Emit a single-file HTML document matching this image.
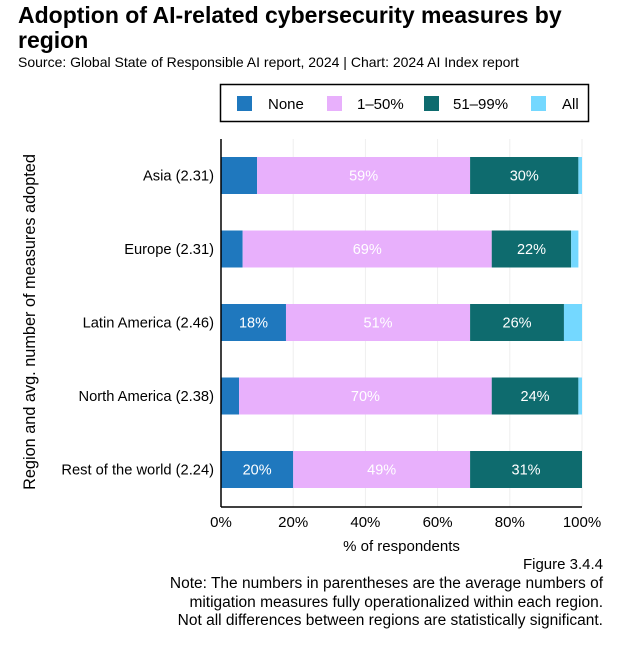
<!DOCTYPE html>
<html><head><meta charset="utf-8">
<style>
body{margin:0;background:#fff;font-family:"Liberation Sans",sans-serif;color:#000}
.t{position:absolute;white-space:nowrap}
</style></head>
<body>
<div style="position:relative;width:617px;height:645px;overflow:hidden">
<div class="t" style="left:18px;top:3px;font-size:23px;font-weight:bold;line-height:25px">Adoption of AI-related cybersecurity measures by<br>region</div>
<div class="t" style="left:18px;top:54px;font-size:14px">Source: Global State of Responsible AI report, 2024 | Chart: 2024 AI Index report</div>
<svg id="c" width="617" height="645" style="position:absolute;left:0;top:0"></svg>
<div class="t" style="right:14px;top:556px;font-size:15px">Figure 3.4.4</div>
<div class="t" style="right:14px;top:575px;font-size:15.5px;text-align:right;line-height:18.5px">Note: The numbers in parentheses are the average numbers of<br>mitigation measures fully operationalized within each region.<br>Not all differences between regions are statistically significant.</div>
</div>
<script>
const regions=["Asia (2.31)","Europe (2.31)","Latin America (2.46)","North America (2.38)","Rest of the world (2.24)"];
const seriesNames=["None","1–50%","51–99%","All"];
const none=[10,6,18,5,20];
const low=[59,69,51,70,49];
const high=[30,22,26,24,31];
const all=[1,2,5,1,0];
const showNone=[false,false,true,false,true];
const ticks=[0,20,40,60,80,100];
const colors=["#1f78be","#e8b0fc","#0e6b6e","#74d8ff"];
const textCol=["#fff","#fff","#fff","#fff"];
const svg=document.getElementById('c');const NS="http://www.w3.org/2000/svg";
const X0=221,X1=582,Y0=139,Y1=507;
const x=v=>X0+(X1-X0)*v/100;
const yc=i=>175.5+73.5*i;
function mk(t,a,p){const e=document.createElementNS(NS,t);for(const k in a)e.setAttribute(k,a[k]);(p||svg).appendChild(e);return e;}
ticks.forEach(t=>{
 if(t>0){const g=mk('line',{x1:x(t),x2:x(t),y1:Y0,y2:Y1,stroke:'#eee','stroke-width':1});
 
 }
 const l=mk('text',{x:x(t),y:527,'font-size':15,'text-anchor':'middle'});l.textContent=t+'%';
 
 
});
const series=[none,low,high,all];
regions.forEach((r,i)=>{
 let acc=0;
 series.forEach((s,j)=>{
  const v=s[i];if(v<=0){return;}
  const b=mk('rect',{x:x(acc),y:yc(i)-18.5,width:x(acc+v)-x(acc),height:37,fill:colors[j]});
  
  
  if(j<3&&(j>0||showNone[i])){const t=mk('text',{x:x(acc+v/2),y:yc(i)+5,'font-size':14.5,fill:textCol[j],'text-anchor':'middle'});t.textContent=v+'%';
   
   }
  acc+=v;
 });
 const l=mk('text',{x:214,y:yc(i)+5,'font-size':14.7,'text-anchor':'end'});l.textContent=r;
 
 
});
const ax=mk('line',{x1:X0,x2:X0,y1:Y0,y2:Y1,stroke:'#000','stroke-width':1.5});

const bx=mk('line',{x1:X0,x2:X1,y1:Y1,y2:Y1,stroke:'#000','stroke-width':1.5});

const xt=mk('text',{x:(X0+X1)/2,y:551,'font-size':15,'text-anchor':'middle'});xt.textContent='% of respondents';

const yt=mk('text',{x:0,y:0,'font-size':16.3,'text-anchor':'middle',transform:'translate(35,322) rotate(-90)'});yt.textContent='Region and avg. number of measures adopted';

const lg=mk('rect',{x:220.5,y:84.5,width:368,height:37,fill:'#fff',stroke:'#000','stroke-width':1.5});

const lx=[237,327,424,531],tx=[268,357,453,562];
seriesNames.forEach((n,j)=>{
 const s=mk('rect',{x:lx[j],y:96,width:15,height:15,fill:colors[j]});
 
 const t=mk('text',{x:tx[j],y:109,'font-size':15});t.textContent=n;
 
});
</script>
</body></html>
